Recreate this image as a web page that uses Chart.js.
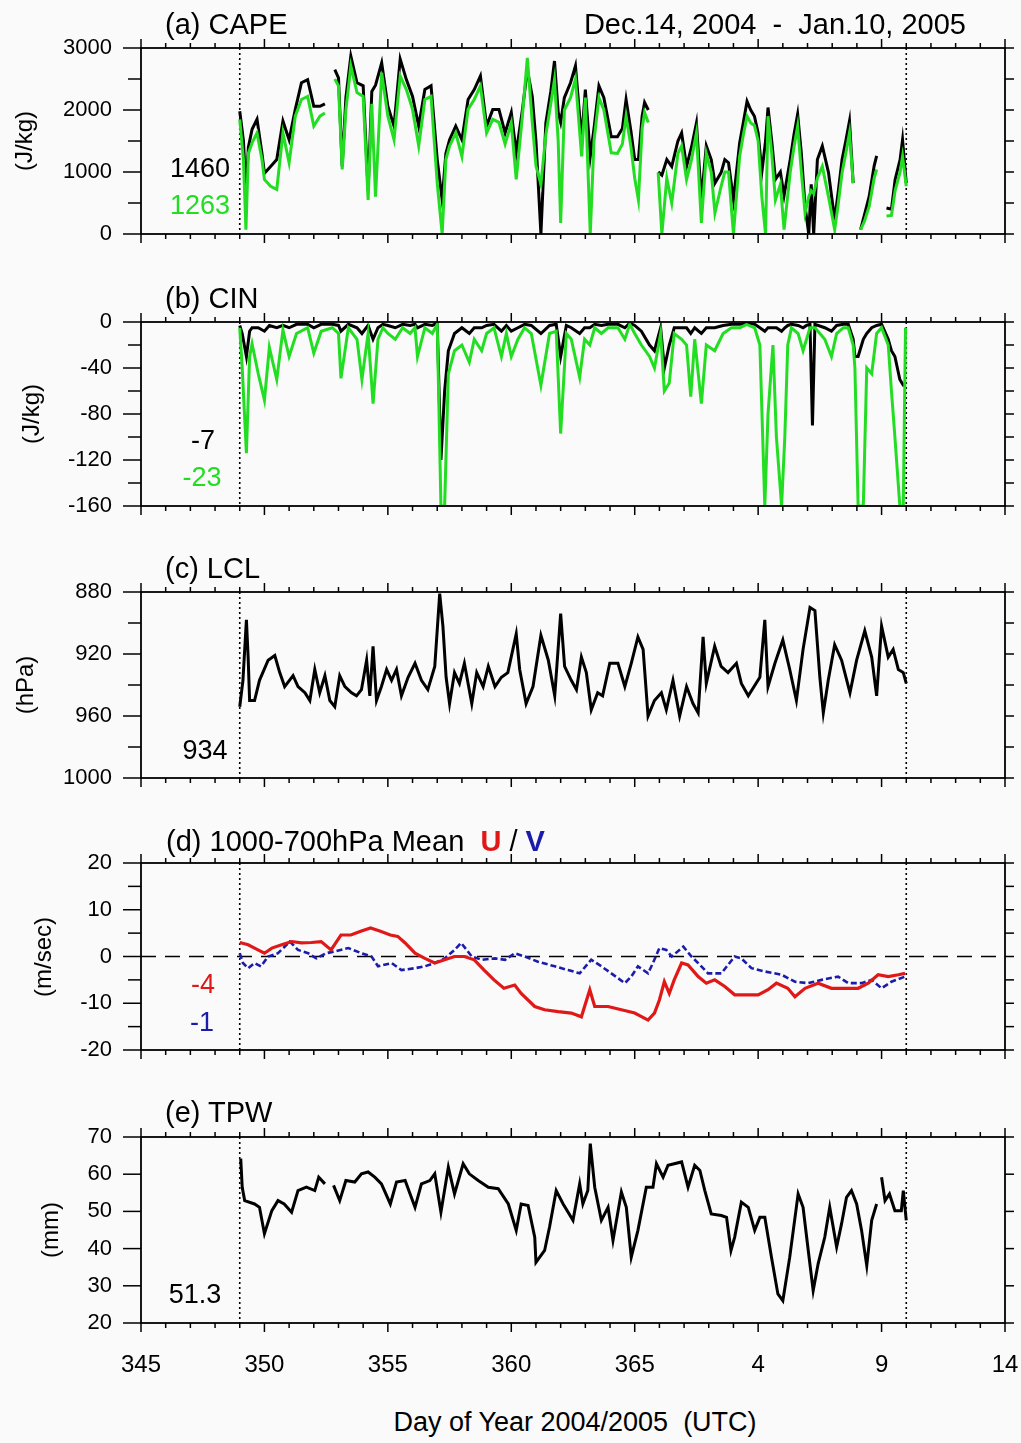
<!DOCTYPE html>
<html><head><meta charset="utf-8">
<script src="https://cdn.jsdelivr.net/npm/chart.js@4.4.1/dist/chart.umd.min.js"></script>
<style>
html,body{margin:0;padding:0;background:#fafafa;}
#wrap{position:relative;width:1021px;height:1443px;overflow:hidden;font-family:"Liberation Sans",Arial,Helvetica,sans-serif;color:#000;}
canvas{position:absolute;left:0;}
.t{position:absolute;white-space:pre;line-height:1;}
.yt{position:absolute;white-space:pre;line-height:1;transform:translate(-50%,-50%) rotate(-90deg);font-size:24px;}
</style></head><body><div id="wrap"></div>
<script>
// ---------------- DATA ----------------
const X_MIN = 345, X_MAX = 380;
const markDays = [349, 376];
const xTickLabels = ['345','350','355','360','365','4','9','14'];

// (a) CAPE (J/kg): black = total, green = second estimate
const capeDays = [349.0,349.15,349.25,349.35,349.5,349.7,349.9,350.0,350.25,350.5,
350.75,351.0,351.25,351.5,351.75,352.0,352.25,352.45,352.6,352.85,
353.0,353.15,353.3,353.5,353.75,354.0,354.2,354.35,354.5,354.75,
355.0,355.25,355.5,355.75,356.0,356.25,356.5,356.75,357.0,357.2,
357.35,357.5,357.75,358.0,358.25,358.5,358.75,359.0,359.25,359.5,
359.75,360.0,360.2,360.45,360.65,360.85,361.0,361.2,361.4,361.6,
361.75,361.9,362.0,362.15,362.4,362.6,362.85,363.0,363.2,363.35,
363.55,363.75,364.05,364.3,364.5,364.65,364.85,365.0,365.15,365.3,
365.4,365.55,365.75,365.95,366.1,366.3,366.5,366.75,366.9,367.1,
367.3,367.5,367.7,367.9,368.1,368.25,368.5,368.65,368.8,369.0,
369.25,369.4,369.55,369.7,369.85,370.0,370.15,370.3,370.4,370.55,
370.7,370.9,371.05,371.3,371.45,371.6,371.75,371.9,372.05,372.15,
372.25,372.4,372.6,372.85,373.1,373.25,373.4,373.55,373.7,373.85,
374.0,374.15,374.3,374.5,374.7,374.8,374.95,375.2,375.4,375.55,
375.75,375.85,376.0];
const capeBlack = [1980,1500,700,1400,1690,1850,1300,980,1090,1200,
1820,1520,2010,2440,2490,2060,2060,2100,null,2650,
2520,1090,2200,2870,2440,2390,700,2300,2400,2760,
2060,1740,2820,2490,2220,1740,2330,2390,1200,550,
1300,1520,1740,1520,2170,2330,2550,1740,2010,2010,
1630,1960,1310,2000,2650,2220,1500,0,1790,2300,
2790,1960,1800,2200,2440,2710,1520,2330,1250,1700,
2390,2200,1570,1570,1700,2170,1650,1200,1200,1900,
2120,2000,null,1000,950,1200,1090,1500,1630,1090,
1400,1790,550,1420,1200,820,990,1200,1150,550,
1470,1800,2140,2000,1900,1630,1000,1500,2040,1500,
880,1000,620,1200,1600,1930,1300,450,0,800,
0,1200,1420,990,230,700,1200,1500,1820,820,
null,70,300,610,1100,1260,null,420,400,880,
1200,1520,820];
const capeGreen = [1850,1200,70,1300,1470,1630,1200,880,770,720,
1630,1150,1900,2170,2220,1740,1900,1950,null,2500,
2390,1040,2000,2710,2280,2220,550,2100,600,2600,
1900,1520,2550,2330,2010,1420,2170,2220,820,0,
1200,1420,1630,1250,2010,2170,2390,1630,1850,1800,
1450,1790,880,1900,2840,1800,1100,800,1600,2100,
2490,1500,180,2000,2200,2500,1250,2200,0,1500,
2200,2000,1310,1300,1450,1900,1400,900,550,1700,
1960,1800,null,990,0,900,500,1300,1420,880,
1200,1630,180,1300,1000,340,770,1000,1000,0,
1250,1600,1900,1790,1750,1500,600,0,1900,1300,
550,800,70,1000,1400,1740,1000,340,600,700,
650,900,1090,600,70,500,990,1300,1630,820,
null,70,200,450,900,1040,null,290,300,700,
1000,1250,770];

// (b) CIN (J/kg)
const cinDays = [349.0,349.1,349.27,349.4,349.5,349.75,350.0,350.2,350.5,350.75,
351.0,351.3,351.75,352.0,352.3,352.75,353.0,353.1,353.4,353.75,
353.95,354.2,354.4,354.6,354.8,355.0,355.3,355.6,355.9,356.1,
356.2,356.5,356.8,357.0,357.15,357.3,357.45,357.7,358.0,358.3,
358.5,358.8,359.0,359.3,359.6,359.8,360.0,360.27,360.54,360.81,
361.2,361.55,361.82,362.0,362.23,362.43,362.77,362.97,363.18,363.38,
363.65,363.92,364.32,364.6,364.8,365.0,365.27,365.6,365.8,366.05,
366.2,366.4,366.6,366.9,367.1,367.27,367.43,367.7,367.9,368.24,
368.58,368.92,369.26,369.53,369.86,370.07,370.27,370.4,370.6,370.74,
370.95,371.08,371.2,371.35,371.62,371.82,371.96,372.1,372.2,372.3,
372.7,372.97,373.18,373.45,373.65,373.85,373.92,374.05,374.26,374.4,
374.6,374.8,375.0,375.27,375.4,375.54,375.74,375.88,375.97];
const cinGreen = [-5,-40,-114,-30,-19,-45,-68,-22,-50,-7,
-30,-10,-5,-27,-8,-5,-10,-49,-5,-15,
-50,-10,-71,-15,-5,-10,-15,-5,-10,-5,
-30,-5,-10,-2,-160,-160,-45,-25,-20,-35,
-15,-25,-10,-5,-30,-10,-30,-15,-5,-10,
-55,-10,-8,-97,-10,-15,-48,-15,-20,-5,
-10,-5,-5,-15,-2,-10,-20,-30,-40,-10,
-60,-53,-10,-15,-20,-65,-15,-71,-20,-25,
-10,-5,-5,-2,-5,-20,-160,-80,-20,-100,
-160,-100,-20,-5,-10,-25,-15,-5,-5,-5,
-15,-30,-10,-5,-5,-20,-40,-160,-160,-40,
-45,-10,-5,-20,-60,-100,-160,-160,-5];
const cinBlack = [-3,-10,-30,-8,-5,-5,-8,-3,-5,-3,
-5,-2,-2,-5,-2,-2,-3,-8,-2,-5,
-10,-3,-15,-5,-2,-3,-5,-2,-3,-2,
-5,-2,-3,-1,-120,-60,-25,-10,-5,-10,
-5,-5,-3,-2,-8,-3,-8,-5,-2,-3,
-10,-3,-2,-30,-3,-5,-10,-5,-5,-2,
-3,-2,-2,-5,-1,-3,-8,-20,-25,-5,
-40,-20,-5,-5,-5,-10,-5,-10,-5,-5,
-3,-2,-2,-1,-2,-5,-8,-5,-5,-5,
-8,-5,-3,-2,-3,-5,-3,-2,-90,-2,
-5,-8,-3,-2,-2,-15,-30,-30,-15,-10,
-5,-3,-2,-15,-25,-30,-50,-55,-55];

// (c) LCL (hPa)
const lclDays = [349.0,349.13,349.27,349.34,349.4,349.6,349.8,350.15,350.42,350.62,
350.82,351.16,351.36,351.64,351.84,352.04,352.24,352.45,352.65,352.85,
353.05,353.26,353.53,353.73,353.93,354.14,354.27,354.4,354.54,354.74,
354.95,355.15,355.35,355.55,355.82,356.1,356.36,356.62,356.9,357.1,
357.23,357.36,357.5,357.7,357.9,358.1,358.4,358.6,358.86,359.07,
359.34,359.6,359.86,360.2,360.34,360.6,360.88,361.2,361.5,361.76,
362.0,362.16,362.43,362.64,362.84,363.04,363.24,363.5,363.7,363.99,
364.32,364.6,364.86,365.13,365.34,365.54,365.8,366.08,366.28,366.55,
366.82,367.1,367.36,367.57,367.77,367.9,368.24,368.5,368.78,369.12,
369.32,369.6,370.07,370.27,370.4,370.68,371.0,371.28,371.55,371.82,
372.1,372.3,372.5,372.64,372.84,373.1,373.38,373.72,373.99,374.32,
374.6,374.8,375.0,375.27,375.47,375.68,375.88,376.0];
const lclVals = [954,937,898,922,950,950,937,924,921,932,
941,934,941,945,950,930,945,934,950,954,
934,941,945,947,943,924,947,915,950,941,
930,937,930,947,935,926,937,943,928,881,
902,935,952,932,939,926,952,932,941,928,
941,935,932,907,930,952,941,908,924,947,
894,928,937,943,922,932,956,945,947,926,
926,941,926,909,917,960,950,945,956,937,
960,941,952,958,909,939,915,928,932,926,
939,947,935,898,941,926,911,930,950,917,
890,892,935,958,937,914,924,945,924,905,
922,947,902,922,917,930,932,939];

// (d) 1000-700 hPa mean wind (m/s)
const uDays = [349.0,349.34,349.6,350.0,350.3,350.7,351.1,351.5,351.9,352.3,
352.7,353.1,353.5,353.9,354.3,354.7,355.1,355.4,355.7,356.1,
356.5,356.9,357.3,357.7,358.1,358.5,358.9,359.3,359.7,360.14,
360.4,360.95,361.35,361.9,362.43,362.84,363.18,363.38,363.92,364.46,
365.0,365.54,365.8,366.0,366.2,366.4,366.6,366.9,367.16,367.57,
367.9,368.24,368.65,369.05,369.6,370.0,370.4,370.74,371.2,371.49,
371.9,372.43,372.97,373.5,374.05,374.46,374.86,375.27,375.68,375.95];
const uVals = [3.0,2.5,1.8,0.7,1.8,2.5,3.2,2.9,3.0,3.2,
1.4,4.6,4.6,5.4,6.1,5.4,4.6,4.3,2.9,0.7,
-0.4,-1.4,-0.7,0,0,-0.7,-2.9,-5.0,-6.8,-6.1,
-7.9,-10.7,-11.4,-11.8,-12.1,-12.9,-7.1,-10.7,-10.7,-11.4,
-12.1,-13.6,-12.1,-9.3,-5.4,-7.9,-5.0,-1.4,-1.8,-4.3,
-5.7,-5.0,-6.4,-8.2,-8.2,-8.2,-7.1,-5.7,-6.8,-8.6,
-6.8,-5.7,-6.8,-6.8,-6.8,-5.7,-3.9,-4.3,-3.9,-3.6];
const vDays = [349.0,349.13,349.34,349.6,349.86,350.15,350.55,351.03,351.36,351.77,
352.1,352.5,352.85,353.4,353.93,354.34,354.6,355.15,355.55,356.1,
356.5,356.9,357.3,357.7,357.97,358.4,358.8,359.34,359.75,360.14,
360.54,361.08,361.76,362.3,362.77,363.24,363.65,364.05,364.6,364.86,
365.13,365.54,365.74,366.0,366.28,366.5,366.97,367.3,367.57,367.97,
368.51,369.05,369.32,369.73,370.27,370.95,371.49,372.03,372.57,373.24,
373.65,374.19,374.6,375.0,375.4,375.95];
const vVals = [0.7,-1.4,-2.5,-1.4,-2.1,0,0.7,3.2,1.4,0.7,
-0.4,0.7,1.1,1.8,0.7,0,-2.1,-1.4,-2.9,-2.5,
-2.1,-1.4,-0.4,1.4,2.9,0,-0.7,-0.4,-0.7,0.7,
0,-1.1,-2.1,-2.9,-3.6,-0.7,-2.1,-3.6,-5.7,-4.3,
-2.1,-3.6,-1.4,1.8,1.4,0,2.1,0,-1.4,-3.6,
-3.6,0,-0.4,-2.5,-3.2,-3.9,-5.4,-5.7,-5.0,-4.3,
-5.7,-5.7,-5.0,-6.8,-5.4,-4.3];

// (e) TPW (mm)
const tpwDays = [349.04,349.1,349.2,349.6,349.8,350.0,350.3,350.55,350.8,351.1,
351.36,351.7,352.04,352.2,352.45,352.6,352.8,353.05,353.3,353.66,
353.93,354.2,354.47,354.74,355.1,355.35,355.7,356.1,356.36,356.7,
356.9,357.15,357.45,357.7,358.05,358.3,358.66,359.07,359.47,359.88,
360.2,360.4,360.68,360.95,361.0,361.35,361.55,361.82,362.1,362.5,
362.77,362.9,363.1,363.2,363.38,363.65,363.92,364.12,364.46,364.66,
364.86,365.13,365.47,365.74,365.88,366.15,366.35,366.9,367.16,367.43,
367.64,367.84,368.1,368.51,368.72,368.9,369.05,369.32,369.6,369.86,
370.07,370.27,370.54,370.8,371.0,371.28,371.62,371.82,372.03,372.23,
372.43,372.7,372.9,373.18,373.38,373.58,373.78,373.99,374.19,374.4,
374.6,374.8,374.9,375.0,375.14,375.32,375.54,375.8,375.88,376.0];
const tpwVals = [64.2,56.5,52.9,52.0,51.1,44.0,50.2,52.9,52.0,49.8,
55.6,56.5,55.6,59.2,57.4,null,57.0,52.9,58.3,57.9,
60.1,60.6,59.2,57.4,52.0,57.9,58.3,51.1,57.4,58.3,
60.1,49.8,61.9,54.7,62.8,60.1,58.3,56.5,56.1,52.0,
44.9,52.0,51.6,43.1,36.3,39.5,45.8,55.6,52.0,47.6,
57.4,52.0,55.6,68.2,56.5,47.6,51.1,42.2,55.2,51.1,
37.7,44.9,56.5,56.5,62.8,59.2,62.4,63.3,56.5,62.4,
61.0,55.6,49.3,48.9,48.4,39.5,43.1,52.5,51.1,44.9,
48.4,48.4,37.7,27.8,26.0,37.7,54.7,51.1,39.5,28.7,
35.9,43.1,51.1,40.4,46.7,53.8,55.6,52.0,44.9,35.4,
47.6,52.0,null,59.2,52.9,54.7,50.2,50.2,55.6,47.6];

// period means shown in each panel
const capeMeans = ['1460','1263'];
const cinMeans = ['-7','-23'];
const lclMean = '934';
const windMeans = ['-4','-1'];
const tpwMean = '51.3';

// ---------------- DRAWING ----------------
const FONT = '"Liberation Sans", Arial, Helvetica, sans-serif';
Chart.defaults.font.family = FONT;
const wrap = document.getElementById('wrap');
const GREEN = '#22dd22', RED = '#e01818', BLUE = '#1c1caa';

function txt(html, x, base, size, o = {}) {
  const d = document.createElement('div');
  d.className = 't';
  d.innerHTML = html;
  d.style.fontSize = size + 'px';
  d.style.left = x + 'px';
  d.style.top = (base - 0.8465 * size) + 'px';
  if (o.color) d.style.color = o.color;
  if (o.align === 'center') d.style.transform = 'translateX(-50%)';
  if (o.align === 'right') d.style.transform = 'translateX(-100%)';
  wrap.appendChild(d);
}
function ytitle(s, cx, cy) {
  const d = document.createElement('div');
  d.className = 'yt'; d.textContent = s;
  d.style.left = cx + 'px'; d.style.top = cy + 'px';
  wrap.appendChild(d);
}
const pts = (days, vals) => days.map((d, i) => ({x: d, y: vals[i]}));
const isLab = (v, every) => Math.abs(Math.round(v / every) * every - v) < 1e-6;

const framePlugin = {
  id: 'frame',
  beforeDatasetsDraw(chart, args, opts) {
    const {ctx, chartArea: a, scales: {x, y}} = chart;
    ctx.save();
    ctx.strokeStyle = '#000';
    if (opts.zeroLine) {
      ctx.lineWidth = 1.6; ctx.setLineDash([15, 9]);
      const py = y.getPixelForValue(0);
      ctx.beginPath(); ctx.moveTo(a.left, py); ctx.lineTo(a.right, py); ctx.stroke();
    }
    ctx.lineWidth = 1.6; ctx.setLineDash([2, 3]);
    for (const d of markDays) {
      const px = x.getPixelForValue(d);
      ctx.beginPath(); ctx.moveTo(px, a.top); ctx.lineTo(px, a.bottom); ctx.stroke();
    }
    ctx.restore();
  },
  afterDatasetsDraw(chart, args, opts) {
    const {ctx, chartArea: a, scales: {x, y}} = chart;
    ctx.save();
    ctx.strokeStyle = '#000'; ctx.setLineDash([]);
    ctx.lineWidth = 1.8;
    ctx.strokeRect(a.left, a.top, a.right - a.left, a.bottom - a.top);
    ctx.lineWidth = 1.5;
    const seg = (x1, y1, x2, y2) => { ctx.beginPath(); ctx.moveTo(x1, y1); ctx.lineTo(x2, y2); ctx.stroke(); };
    for (let d = X_MIN; d <= X_MAX; d++) {
      const px = x.getPixelForValue(d);
      const L = d % 5 === 0 ? 9 : 5;
      seg(px, a.top, px, a.top - L);
      seg(px, a.bottom, px, a.bottom + L);
    }
    y.ticks.forEach(t => {
      const py = y.getPixelForValue(t.value);
      const major = isLab(t.value, opts.labelEvery);
      seg(a.left - (major ? 18 : 13), py, a.left, py);
      seg(a.right, py, a.right + 9, py);
    });
    ctx.restore();
  }
};

function line(data, color, width, dash) {
  return {data, borderColor: color, borderWidth: width, pointRadius: 0, fill: false,
          tension: 0, spanGaps: false, borderDash: dash || [], borderJoinStyle: 'miter'};
}

function makeChart(p) {
  const padTop = 30;
  const c = document.createElement('canvas');
  const h = (p.bottom - p.top) + padTop + (p.showX ? 60 : 30);
  c.width = 1021; c.height = h;
  c.style.top = (p.top - padTop) + 'px';
  wrap.appendChild(c);
  const xScale = {type: 'linear', min: X_MIN, max: X_MAX, display: !!p.showX,
            grid: {display: false, drawTicks: false}, border: {display: false},
            afterFit: s => { if (p.showX) s.height = 60; s.paddingLeft = 0; s.paddingRight = 0; s.paddingTop = 0; s.paddingBottom = 0; },
            ticks: {stepSize: 5, autoSkip: false, maxRotation: 0, padding: 28, color: '#000',
                    font: {size: 24, family: FONT},
                    callback: v => xTickLabels[Math.round((v - X_MIN) / 5)] || ''}};
  new Chart(c, {
    type: 'line',
    data: {datasets: p.datasets},
    options: {
      responsive: false, animation: false, events: [],
      layout: {autoPadding: false, padding: {left: 0, right: 16, top: padTop, bottom: p.showX ? 0 : 30}},
      plugins: {legend: {display: false}, tooltip: {enabled: false},
                frame: {zeroLine: !!p.zeroLine, labelEvery: p.labelEvery}},
      scales: {
        x: xScale,
        y: {type: 'linear', min: p.min, max: p.max, reverse: !!p.reverse,
            grid: {display: false, drawTicks: false}, border: {display: false},
            afterFit: s => { s.width = 141; s.paddingTop = 0; s.paddingBottom = 0; s.paddingLeft = 0; s.paddingRight = 0; },
            ticks: {stepSize: p.step, autoSkip: false, padding: 29, color: '#000',
                    font: {size: 22, family: FONT},
                    callback: v => isLab(v, p.labelEvery) ? String(v) : ''}}
      }
    },
    plugins: [framePlugin]
  });
}

makeChart({top: 48, bottom: 234, min: 0, max: 3000, step: 500, labelEvery: 1000,
  datasets: [line(pts(capeDays, capeGreen), GREEN, 3), line(pts(capeDays, capeBlack), '#000', 3)]});
makeChart({top: 322, bottom: 506, min: -160, max: 0, step: 20, labelEvery: 40,
  datasets: [line(pts(cinDays, cinGreen), GREEN, 3), line(pts(cinDays, cinBlack), '#000', 3)]});
makeChart({top: 592, bottom: 778, min: 880, max: 1000, step: 20, labelEvery: 40, reverse: true,
  datasets: [line(pts(lclDays, lclVals), '#000', 3)]});
makeChart({top: 863, bottom: 1050, min: -20, max: 20, step: 5, labelEvery: 10, zeroLine: true,
  datasets: [line(pts(uDays, uVals), RED, 3.2), line(pts(vDays, vVals), BLUE, 2.6, [6, 3])]});
makeChart({top: 1137, bottom: 1323, min: 20, max: 70, step: 10, labelEvery: 10, showX: true,
  datasets: [line(pts(tpwDays, tpwVals), '#000', 3)]});

// titles
txt('(a) CAPE', 165, 35, 29);
txt('Dec.14, 2004  -  Jan.10, 2005', 966, 35, 29, {align: 'right'});
txt('(b) CIN', 165, 309, 29);
txt('(c) LCL', 165, 579, 29);
txt('(d) 1000-700hPa Mean  <span style="color:' + RED + ';font-weight:bold">U</span> / <span style="color:' + BLUE + ';font-weight:bold">V</span>', 166, 852, 29);
txt('(e) TPW', 165, 1123, 29);
// period means
txt(capeMeans[0], 200, 178, 27, {align: 'center'});
txt(capeMeans[1], 200, 215, 27, {align: 'center', color: GREEN});
txt(cinMeans[0], 203, 450, 27, {align: 'center'});
txt(cinMeans[1], 202, 487, 27, {align: 'center', color: GREEN});
txt(lclMean, 205, 760, 27, {align: 'center'});
txt(windMeans[0], 203, 994, 27, {align: 'center', color: RED});
txt(windMeans[1], 202, 1032, 27, {align: 'center', color: BLUE});
txt(tpwMean, 195, 1304, 27, {align: 'center'});
// axis titles
ytitle('(J/kg)', 24, 141);
ytitle('(J/kg)', 31, 414);
ytitle('(hPa)', 25, 685);
ytitle('(m/sec)', 43, 957);
ytitle('(mm)', 50, 1230);
txt('Day of Year 2004/2005  (UTC)', 575, 1432, 27, {align: 'center'});
</script></body></html>
